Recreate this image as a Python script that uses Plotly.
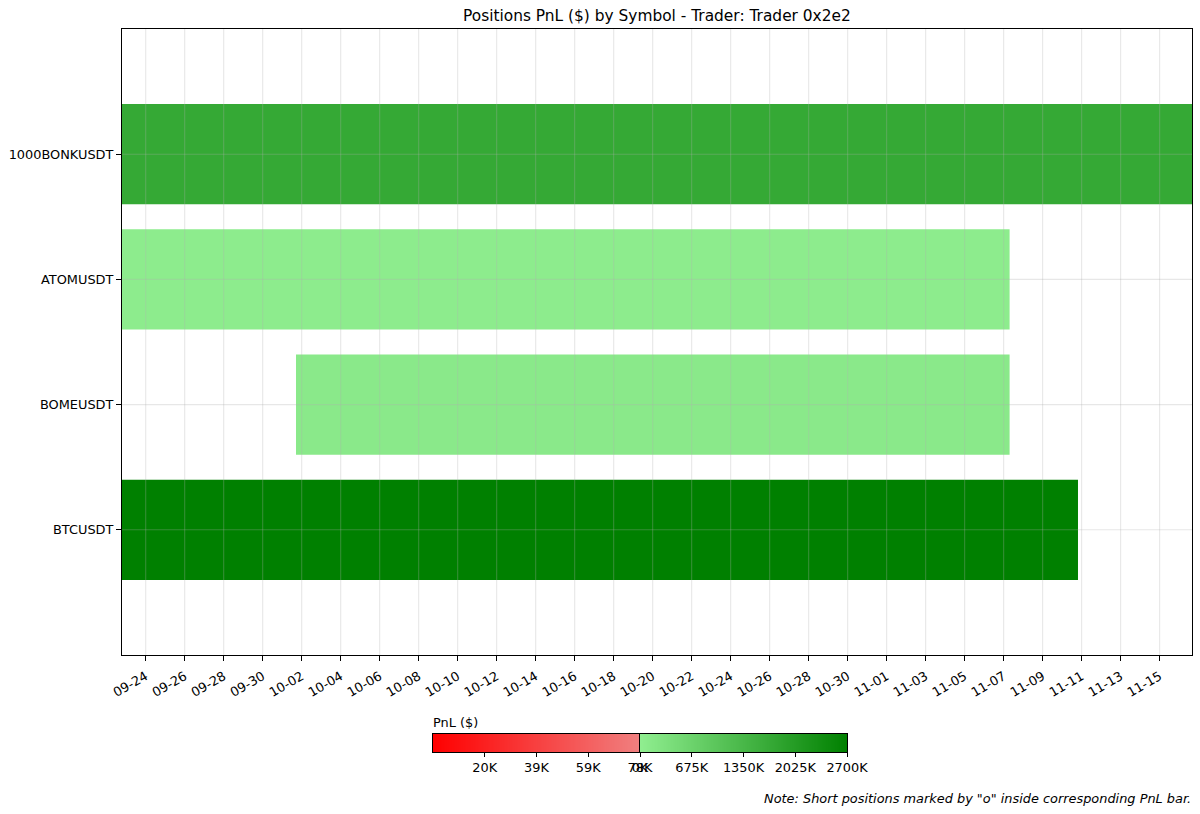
import numpy as np
import pandas as pd
import plotly.graph_objects as go

# ---- data ----
symbols = ["1000BONKUSDT", "ATOMUSDT", "BOMEUSDT", "BTCUSDT"]
starts = ["2024-09-22 18:50", "2024-09-22 18:50", "2024-10-01 17:00", "2024-09-22 18:50"]
ends = ["2024-11-16 15:50", "2024-11-07 07:20", "2024-11-07 07:20", "2024-11-10 19:30"]
pnl = [1700000, 60000, 120000, 2700000]

loss_max = 78300
profit_max = 2700000
loss_tickvals = [19575, 39150, 58725, 78300]
loss_ticktext = ["20K", "39K", "59K", "78K"]
profit_tickvals = [0, 675000, 1350000, 2025000, 2700000]
profit_ticktext = ["0K", "675K", "1350K", "2025K", "2700K"]

title = "Positions PnL ($) by Symbol - Trader: Trader 0x2e2"
note = 'Note: Short positions marked by "o" inside corresponding PnL bar.'

# ---- geometry helpers ----
W, H = 1200, 814
def px_x(v):
    return v / W
def px_y(v):
    return 1 - v / H

s = pd.to_datetime(starts)
e = pd.to_datetime(ends)
dur_ms = [(b - a).total_seconds() * 1000 for a, b in zip(s, e)]

FONT = "DejaVu Sans"
TS = 12.9
grid = "rgba(176,176,176,0.3)"

fig = go.Figure()
fig.add_trace(go.Bar(
    y=symbols, x=dur_ms, base=starts, orientation="h", width=0.8,
    marker=dict(color=pnl, colorscale=[[0, "lightgreen"], [1, "green"]],
                cmin=0, cmax=profit_max, line=dict(width=0)),
    showlegend=False,
))

# colorbar: loss part
lx = np.linspace(0, loss_max, 300)
fig.add_trace(go.Heatmap(
    x=lx, y=[0], z=[lx], colorscale=[[0, "red"], [1, "lightcoral"]],
    showscale=False, zsmooth="best", xaxis="x2", yaxis="y2", hoverinfo="skip",
))
# colorbar: profit part
gx = np.linspace(0, profit_max, 300)
fig.add_trace(go.Heatmap(
    x=gx, y=[0], z=[gx], colorscale=[[0, "lightgreen"], [1, "green"]],
    showscale=False, zsmooth="best", xaxis="x3", yaxis="y3", hoverinfo="skip",
))

# grid lines drawn above the bars (as in the reference)
tick0 = pd.Timestamp("2024-09-24")
grid_dates = pd.date_range(tick0, max(e), freq="2D")
shapes = []
for d in grid_dates:
    shapes.append(dict(type="line", xref="x", yref="y domain", x0=d, x1=d, y0=0, y1=1,
                       line=dict(color=grid, width=1.1), layer="above"))
for sym in symbols:
    shapes.append(dict(type="line", xref="x domain", yref="y", x0=0, x1=1, y0=sym, y1=sym,
                       line=dict(color=grid, width=1.1), layer="above"))

cb_y = [px_y(752), px_y(734)]
common_cb = dict(showline=True, mirror=True, linecolor="black", linewidth=1,
                 showgrid=False, zeroline=False, ticks="outside", ticklen=4,
                 tickcolor="black", tickfont=dict(family=FONT, size=TS, color="black"))

fig.update_layout(
    width=W, height=H,
    margin=dict(l=0, r=0, t=0, b=0, autoexpand=False),
    paper_bgcolor="white", plot_bgcolor="white",
    font=dict(family=FONT, size=TS, color="black"),
    shapes=shapes,
    xaxis=dict(
        domain=[px_x(122), px_x(1192)], anchor="y", type="date",
        range=[min(s), max(e)],
        tick0="2024-09-24", dtick=2 * 86400000, tickformat="%m-%d",
        tickangle=-30, ticks="outside", ticklen=5, tickcolor="black",
        ticklabelstandoff=3,
        showline=True, mirror=True, linecolor="black", linewidth=1,
        showgrid=False, layer="above traces",
        tickfont=dict(family=FONT, size=TS), zeroline=False,
    ),
    yaxis=dict(
        domain=[px_y(655), px_y(29)], anchor="x",
        categoryorder="array", categoryarray=symbols, range=[4, -1],
        ticks="outside", ticklen=5, tickcolor="black",
        showline=True, mirror=True, linecolor="black", linewidth=1,
        showgrid=False, layer="above traces",
        tickfont=dict(family=FONT, size=TS), zeroline=False,
    ),
    xaxis2=dict(domain=[px_x(433), px_x(640)], anchor="y2", range=[0, loss_max],
                tickvals=loss_tickvals, ticktext=loss_ticktext, **common_cb),
    yaxis2=dict(domain=cb_y, anchor="x2", range=[-0.5, 0.5], showticklabels=False,
                showline=True, mirror=True, linecolor="black", linewidth=1,
                showgrid=False, zeroline=False, ticks=""),
    xaxis3=dict(domain=[px_x(640), px_x(847)], anchor="y3", range=[0, profit_max],
                tickvals=profit_tickvals, ticktext=profit_ticktext, **common_cb),
    yaxis3=dict(domain=cb_y, anchor="x3", range=[-0.5, 0.5], showticklabels=False,
                showline=True, mirror=True, linecolor="black", linewidth=1,
                showgrid=False, zeroline=False, ticks=""),
    annotations=[
        dict(text=title, x=px_x(657), y=px_y(16), xref="paper", yref="paper",
             xanchor="center", yanchor="middle", showarrow=False,
             font=dict(family=FONT, size=15.4, color="black")),
        dict(text="PnL ($)", x=px_x(431), y=px_y(722), xref="paper", yref="paper",
             xanchor="left", yanchor="middle", showarrow=False,
             font=dict(family=FONT, size=TS, color="black")),
        dict(text="<i>" + note + "</i>", x=px_x(1193), y=px_y(798),
             xref="paper", yref="paper", xanchor="right", yanchor="middle",
             showarrow=False, font=dict(family=FONT, size=TS, color="black")),
    ],
)

fig.write_html("out.html", config={"displayModeBar": False},
               post_script="document.body.style.margin='0px';document.body.style.overflow='hidden';")
